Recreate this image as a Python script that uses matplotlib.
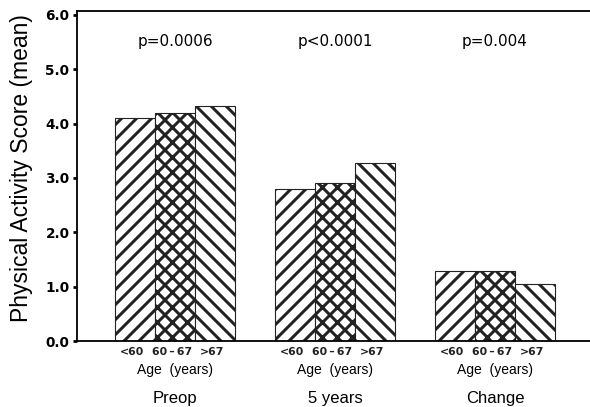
import numpy as np
import matplotlib
matplotlib.use("Agg")
import matplotlib.pyplot as plt

# values
groups = ["Preop", "5 years", "Change"]
age_labels = ["<60", "60\u2009\u2013\u200967", ">67"]
p_values = ["p=0.0006", "p<0.0001", "p=0.004"]
young = [4.11, 2.79, 1.29]
middle = [4.19, 2.91, 1.28]
old = [4.33, 3.28, 1.05]

# dpi 90 so the hatch spacing matches the scan (~15 px); sizes scaled to match
DPI = 90
S = 100 / DPI

plt.rcParams["font.family"] = ["Liberation Sans", "DejaVu Sans"]
plt.rcParams["hatch.linewidth"] = 2.4
plt.rcParams["hatch.color"] = "#2b2b2b"

fig = plt.figure(figsize=(590 / DPI, 407 / DPI), dpi=DPI)
ax = fig.add_axes([0.1305, 0.162, 0.8695, 0.811])

x = np.arange(len(groups))
w = 0.25
series = [(young, "//"), (middle, "xx"), (old, "\\\\")]
for i, (vals, hatch) in enumerate(series):
    ax.bar(x + (i - 1) * w, vals, width=w, facecolor="white",
           edgecolor="#222222", linewidth=0.8 * S, hatch=hatch)

ax.set_xlim(-0.6125, 2.594)
ax.set_ylim(0, 6.07)
ticks = np.arange(0, 6.5, 1.0)
ax.set_yticks(ticks)
ax.set_yticklabels([f"{v:.1f}" for v in ticks], fontsize=9.8 * S,
                   fontweight="bold", family="DejaVu Sans")
ax.tick_params(axis="y", direction="out", length=3.5, width=2.2, pad=2.5)
ax.set_xticks([])
ax.spines["right"].set_visible(False)
for s in ["left", "bottom", "top"]:
    ax.spines[s].set_linewidth(1.3 * S)

fig.text(22 / 590, 0.588, "Physical Activity Score (mean)", rotation=90,
         ha="center", va="center", fontsize=16.5 * S)

for i in range(len(groups)):
    ax.text(x[i], 5.5, p_values[i], ha="center", va="center",
            fontsize=11 * S, family="DejaVu Sans")
    for j, lab in enumerate(age_labels):
        ax.text(x[i] + (j - 1) * w - 0.02, -0.11, lab, ha="center", va="top",
                fontsize=7.8 * S, fontweight="bold", family="DejaVu Sans",
                color="#222222")
    ax.text(x[i], -0.4, "Age  (years)", ha="center", va="top", fontsize=10 * S)
    ax.text(x[i], -0.92, groups[i], ha="center", va="top", fontsize=12 * S)

fig.savefig("out.png", dpi=DPI)
